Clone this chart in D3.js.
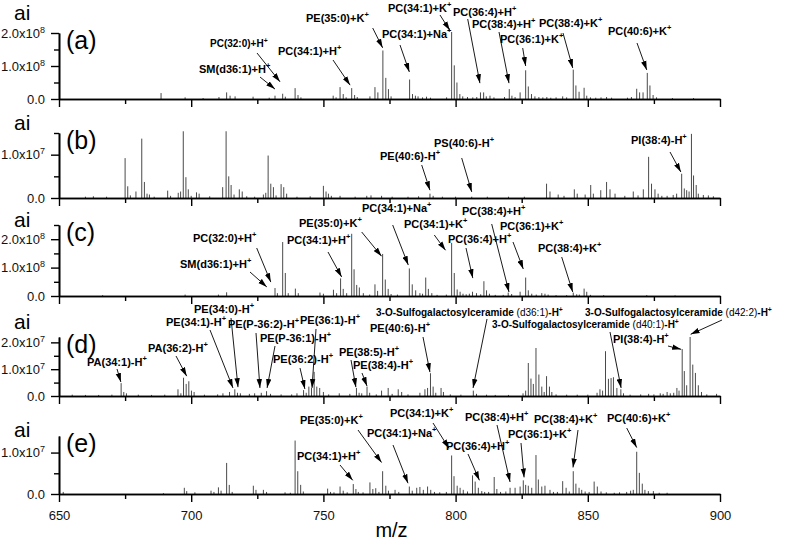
<!DOCTYPE html>
<html><head><meta charset="utf-8">
<script src="https://cdn.jsdelivr.net/npm/d3@7"></script>
<style>body{margin:0;background:#fff} text{font-family:"Liberation Sans",Arial,Helvetica,sans-serif}</style>
</head><body><svg id="c" width="787" height="546"></svg>
<script>
// ---------------- DATA ----------------
const panelNames = ["(a)","(b)","(c)","(d)","(e)"];
const yExp   = [8,7,8,7,7];
const yMax   = [2.0,1.5,2.5,2.2,1.4];
const yMajor = [[0,1,2],[0,1],[0,1,2],[0,1,2],[0,1]];
const yMinor = [[0.5,1.5],[0.5,1.5],[0.5,1.5,2.5],[0.5,1.5],[0.5]];
const xDomain = [650,900];
const xMajor = [650,700,750,800,850,900];
const xMinor = [675,725,775,825,875];
const xTitle = "m/z";
const yTitle = "ai";

// peaks: [m/z, intensity in units of 10^exp]
const peaksA = [[688.6,0.18],[697.7,0.05],[704.5,0.03],[710.5,0.06],[713.4,0.2],[714.7,0.1],[716.6,0.08],[723.4,0.07],[729.5,0.04],[731.7,0.1],[734.6,0.16],[735.6,0.07],[739.3,0.33],[740.4,0.12],[741.5,0.05],[753.7,0.1],[754.8,0.05],[756.3,0.36],[757.5,0.15],[758.6,0.05],[760.7,0.33],[761.8,0.12],[762.8,0.06],[767.6,0.08],[769.5,0.36],[770.6,0.2],[772.5,1.47],[773.6,0.64],[774.6,0.3],[775.6,0.08],[782.6,0.59],[783.7,0.15],[784.8,0.1],[785.8,0.08],[787.5,0.05],[789,0.07],[790.5,0.04],[796.6,0.05],[798.5,2.03],[799.5,1.02],[800.5,0.5],[801.6,0.15],[802.7,0.08],[804.5,0.06],[806.5,0.05],[808,0.06],[809.4,0.2],[810.6,0.2],[811.6,0.08],[813,0.1],[814.5,0.05],[818.5,0.06],[820.3,0.3],[821.3,0.1],[822.5,0.06],[824.4,0.2],[826.5,0.87],[827.5,0.38],[828.7,0.15],[830,0.08],[831.5,0.06],[833,0.05],[834.5,0.06],[836,0.04],[838,0.05],[840.5,0.08],[842,0.05],[844.5,0.89],[845.5,0.41],[846.7,0.22],[848.6,0.34],[849.6,0.1],[851,0.05],[853,0.04],[855,0.05],[857.1,0.06],[859,0.04],[865,0.04],[866.5,0.06],[868.5,0.31],[869.6,0.2],[870.9,0.2],[872.5,0.79],[873.5,0.41],[874.7,0.12],[876,0.05],[882,0.03],[890,0.03]];
const peaksB = [[660,0.03],[663,0.04],[668,0.03],[675,0.92],[676,0.27],[677,0.06],[679.1,0.15],[681.3,1.37],[682.3,0.37],[683.3,0.1],[684.2,0.08],[686,0.03],[691.1,0.17],[692.2,0.05],[695.1,0.12],[696,0.15],[697,1.54],[698,0.48],[698.9,0.2],[700,0.05],[702,0.13],[703,0.1],[707,0.04],[711.9,0.25],[713.2,1.54],[714.2,0.5],[715.1,0.3],[716.2,0.08],[718.2,0.2],[719.3,0.15],[721,0.04],[724,0.03],[727.3,0.08],[728.2,0.12],[729.1,0.98],[730.1,0.33],[731.1,0.25],[732.1,0.06],[734,0.32],[735,0.25],[736.1,0.1],[740,0.03],[745,0.04],[750,0.28],[751,0.15],[751.9,0.1],[753,0.05],[756.3,0.05],[762,0.03],[766.4,0.05],[768,0.06],[772,0.05],[776,0.03],[782,0.03],[786,0.04],[790.3,0.1],[791.5,0.05],[795,0.03],[800,0.03],[806.1,0.03],[812,0.03],[820,0.03],[826,0.03],[834.4,0.33],[835.7,0.15],[838.8,0.08],[841,0.05],[844.9,0.2],[846,0.1],[849,0.08],[851.1,0.3],[852.1,0.1],[854.9,0.18],[857.1,0.37],[858.4,0.2],[860.3,0.1],[864,0.05],[867.2,0.15],[869,0.06],[871,0.2],[873,0.95],[874.1,0.33],[875.4,0.2],[876.6,0.1],[878,0.05],[880,0.05],[882.3,0.07],[883.6,0.1],[885.5,0.56],[886.5,0.22],[887.4,0.18],[888.3,0.15],[889.2,1.48],[890,0.52],[891,0.3],[891.8,0.1],[893.7,0.07],[895.6,0.06],[897.5,0.04]];
const peaksC = [[666.5,0.03],[697.7,0.05],[710.3,0.05],[713.4,0.13],[731.7,0.28],[732.6,0.1],[734.6,1.9],[735.6,0.81],[736.7,0.1],[739.4,0.26],[740.5,0.1],[748.7,0.12],[750,0.08],[753.8,0.22],[755,0.1],[756.5,0.62],[757.5,0.25],[758.8,0.1],[760.7,2.19],[761.6,0.94],[762.6,0.39],[763.6,0.3],[765.1,0.1],[767.5,0.05],[769.5,0.41],[770.5,0.18],[772.4,1.48],[773.4,0.58],[774.5,0.25],[775.6,0.07],[778,0.05],[782.5,0.97],[783.6,0.41],[784.9,0.2],[786.5,0.1],[787.5,0.08],[788.7,0.65],[789.7,0.25],[791,0.1],[793,0.04],[796.5,0.05],[798.5,1.87],[799.5,0.81],[800.6,0.23],[801.7,0.15],[802.8,0.08],[804,0.06],[805.2,0.08],[806.4,0.15],[807.9,0.1],[809.5,0.06],[810.7,0.52],[811.7,0.2],[812.8,0.08],[815,0.04],[818,0.04],[819.9,0.12],[821.2,0.07],[824.4,0.15],[826.5,0.65],[827.5,0.2],[828.8,0.08],[830.5,0.05],[832.6,0.1],[833.8,0.08],[835,0.05],[838,0.03],[842,0.03],[844.5,0.12],[845.8,0.06],[846.8,0.05],[848.6,0.26],[849.6,0.15],[851,0.04],[856,0.03],[872.3,0.03],[883,0.02]];
const peaksD = [[655,0.05],[660,0.04],[665,0.04],[670,0.05],[673.5,0.48],[674.5,0.15],[675.5,0.1],[680,0.05],[685,0.04],[690,0.05],[695,0.25],[696.1,0.1],[697.1,0.68],[698.1,0.45],[699.1,0.55],[700.1,0.2],[701.1,0.15],[705,0.05],[710,0.06],[712,0.1],[714.5,0.15],[716.5,0.25],[717.5,0.12],[718.6,0.1],[722,0.08],[724,0.1],[726.5,0.12],[728.5,0.18],[730,0.08],[734,0.06],[738,0.06],[740,0.1],[742.5,0.22],[743.5,0.12],[744.5,0.35],[745.5,0.3],[746.5,0.9],[747.5,0.35],[748.6,0.3],[750,0.15],[752,0.06],[756,0.1],[760,0.08],[762.5,0.3],[763.5,0.12],[764.5,0.1],[766.5,0.35],[767.5,0.12],[770,0.06],[772,0.2],[774.5,0.3],[776,0.08],[778.3,0.25],[779.6,0.15],[782,0.06],[786.5,0.12],[788.4,0.25],[789.4,0.3],[790.5,0.85],[791.5,0.35],[792.5,0.12],[794.5,0.3],[795.4,0.15],[798,0.06],[802,0.05],[806.7,0.2],[807.9,0.08],[811.7,0.05],[815,0.04],[820,0.04],[825.5,0.1],[826.5,0.2],[827.5,1.23],[828.5,0.65],[829.4,0.45],[830.4,1.79],[831.5,0.8],[832.6,0.35],[833.5,0.15],[834.4,0.74],[835.5,0.35],[836.4,0.15],[838,0.06],[842,0.05],[846,0.05],[850,0.05],[853.5,0.12],[854.6,0.25],[855.6,0.2],[856.7,1.67],[857.8,0.64],[858.8,0.67],[859.7,0.7],[861,0.3],[862.5,0.25],[863.5,0.1],[866,0.05],[870,0.06],[873,0.08],[875,0.06],[877.4,0.1],[878.5,0.08],[880,0.15],[881.2,0.1],[882.5,0.12],[883.7,0.3],[884.5,0.2],[885.7,1.75],[886.5,0.93],[887.4,0.4],[888.7,2.2],[889.7,1.17],[890.7,0.86],[891.8,0.4],[893,0.15],[895,0.06],[898.7,0.08]];
const peaksE = [[651.6,0.05],[689.5,0.02],[697.4,0.15],[698.3,0.07],[701.4,0.04],[707.5,0.08],[708.6,0.05],[710.3,0.16],[711.3,0.08],[713.4,0.75],[714.4,0.22],[715.5,0.05],[723.5,0.2],[724.5,0.1],[727.3,0.1],[728.5,0.05],[735.5,0.04],[737.5,0.03],[739.3,1.29],[740.3,0.55],[741.4,0.22],[742.4,0.06],[751.6,0.13],[752.7,0.05],[754,0.04],[756.3,0.18],[757.5,0.08],[759,0.04],[761.3,0.24],[762.3,0.12],[763.2,0.05],[765,0.04],[767.6,0.28],[768.7,0.12],[769.8,0.14],[771,0.05],[772.4,0.55],[773.6,0.2],[774.6,0.08],[777.1,0.1],[778.5,0.05],[782.5,0.18],[783.6,0.08],[785.3,0.15],[786.5,0.17],[787.8,0.1],[789.4,0.18],[790.6,0.1],[792,0.05],[794,0.04],[796.5,0.05],[798.5,0.93],[799.4,0.43],[800.6,0.2],[801.7,0.15],[802.9,0.1],[804.5,0.06],[806.4,0.45],[807.4,0.3],[808.6,0.15],[809.9,0.07],[811,0.05],[812.5,0.05],[814.6,0.41],[815.6,0.12],[817,0.05],[819,0.06],[820.6,0.15],[822.5,0.15],[824.4,0.18],[825.6,0.33],[826.5,0.22],[827.5,0.2],[828.8,0.15],[830.4,0.94],[831.3,0.35],[832.6,0.18],[833.8,0.2],[835.7,0.1],[837,0.05],[838.5,0.05],[840.5,0.31],[841.8,0.15],[843,0.06],[844.5,0.55],[845.5,0.25],[846.7,0.15],[847.7,0.1],[849,0.06],[850.5,0.05],[852.4,0.3],[853.6,0.18],[855,0.06],[857,0.04],[860,0.03],[862,0.04],[864.7,0.05],[866.2,0.08],[867.2,0.1],[868.5,1.02],[869.5,0.51],[870.6,0.25],[871.6,0.1],[872.9,0.07],[874.8,0.07],[877,0.03],[880,0.03]];

// annotations: [label, arrow-tip m/z, arrow-tip intensity]
const annA = [["PE(35:0)+K^+",772.4,1.55],["PC(32:0)+H^+",733.6,0.52],["PC(34:1)+H^+",760.1,0.42],["SM(d36:1)+H^+",731.7,0.3],["PC(34:1)+Na^+",782.5,0.82],["PC(34:1)+K^+",797.8,2.08],["PC(36:4)+H^+",809.2,0.48],["PC(38:4)+H^+",820.2,0.48],["PC(36:1)+K^+",826.5,1.0],["PC(38:4)+K^+",844.3,0.94],["PC(40:6)+K^+",872.3,0.88]];
const annB = [["PE(40:6)-H^+",790.3,0.18],["PS(40:6)-H^+",806.1,0.14],["PI(38:4)-H^+",885.2,0.6]];
const annC = [["PC(32:0)+H^+",730.1,0.49],["SM(d36:1)+H^+",728.6,0.32],["PC(34:1)+H^+",756.9,0.67],["PE(35:0)+K^+",772.0,1.4],["PC(34:1)+Na^+",782.1,1.09],["PC(34:1)+K^+",796.2,1.61],["PC(38:4)+H^+",820.2,0.14],["PC(36:1)+K^+",825.6,0.95],["PC(36:4)+H^+",806.5,0.63],["PC(38:4)+K^+",844.3,0.14]];
const annD = [["PA(34:1)-H^+",673.4,0.52],["PA(36:2)-H^+",698.3,0.74],["PE(34:1)-H^+",715.8,0.3],["PE(34:0)-H^+",717.7,0.33],["PE(P-36:2)-H^+",726,0.3],["PE(P-36:1)-H^+",728.7,0.3],["PE(36:2)-H^+",743,0.26],["PE(36:1)-H^+",745.7,0.3],["PE(38:5)-H^+",762.3,0.33],["PE(38:4)-H^+",766.5,0.37],["PE(40:6)-H^+",790.3,0.89],["3-O-Sulfogalactosylceramide |(d36:1)|-H^+",806.6,0.3],["3-O-Sulfogalactosylceramide |(d40:1)|-H^+",862.6,0.3],["3-O-Sulfogalactosylceramide |(d42:2)|-H^+",888.9,2.3],["PI(38:4)-H^+",885.3,1.74]];
const annE = [["PE(35:0)+K^+",772.0,0.76],["PC(34:1)+H^+",761.1,0.33],["PC(34:1)+Na^+",782,0.26],["PC(34:1)+K^+",797.5,1.1],["PC(38:4)+H^+",820.6,0.29],["PC(38:4)+K^+",844.4,0.64],["PC(40:6)+K^+",868.5,1.12],["PC(36:1)+K^+",825.9,0.4],["PC(36:4)+H^+",809,0.33]];

// ---------------- LAYOUT ----------------
const W = 787, H = 546;
const plotX = [59, 720];
const panelBox = [[33,99],[133,198],[225,296],[337,396],[436,494]]; // [top, baseline]
const aiY = [20,130,227,329,437];
// label layout: [textX, textBaseline, arrowStartX, arrowStartY, fontSize]
const layA = [[306,22,372.7,28],[210,47,257,53,10],[278,55,333,60],[199,73,260,77],[382,38,400,45],[388,12,440,15],[453,16,467.7,19],[472,28,499,32],[500,43,522.7,48],[539,27,563,33],[608,35,637,43]];
const layB = [[380,160,421.7,165],[434,147,461.7,158],[631,144,670,152]];
const layC = [[193,242,256.7,248],[180,268,250,272],[287,244,328,252],[299,227,361.7,232],[362,212,392.7,225],[404,228,434.3,235],[462,215,491.7,224],[500,230,513,242],[448,243,466,248],[538,252,561.7,257]];
const layD = [[87,366,117,369],[148,352,176,356],[166,326,210,330],[194,313,231,318],[228,328,256,333],[260,342,275,346],[273,363,300,368],[300,324,316,329],[339,356,351,360],[353,369,362,373],[370,332,423,337],[376,316,487,319,10],[492,328,610,332,10],[585,316,722,320,10],[613,343,668,346]];
const layE = [[300,424,358,430],[297,460,340,465],[367,437,393,445],[390,417,433,423],[465,421,497,425],[534,423,578,430],[607,422,626.7,428],[508,438,521,443],[446,450,468,454]];

const allPeaks = [peaksA,peaksB,peaksC,peaksD,peaksE];
const allAnn = [annA,annB,annC,annD,annE];
const allLay = [layA,layB,layC,layD,layE];

const svg = d3.select("#c");
svg.append("rect").attr("width",W).attr("height",H).attr("fill","#fff");
const defs = svg.append("defs");
defs.append("marker").attr("id","ah").attr("viewBox","0 0 10 6").attr("refX",10).attr("refY",3)
  .attr("markerWidth",9).attr("markerHeight",6).attr("markerUnits","userSpaceOnUse").attr("orient","auto")
  .append("path").attr("d","M0,0 L10,3 L0,6 Z").attr("fill","#000");

const x = d3.scaleLinear().domain(xDomain).range(plotX);

function writeLabel(t, str, size){
  // '|' toggles normal weight, '^' starts superscript
  let sup = "";
  let main = str;
  const k = str.indexOf("^");
  if (k >= 0){ main = str.slice(0,k); sup = str.slice(k+1); }
  const parts = main.split("|");
  parts.forEach((p,i)=>{
    if (!p) return;
    t.append("tspan").attr("font-weight", i%2 ? "normal" : "bold").text(p);
  });
  if (sup) t.append("tspan").attr("font-weight","bold").attr("font-size", size*0.68).attr("dy", -size*0.42).text(sup);
}

panelBox.forEach((box,i)=>{
  const [top, base] = box;
  const y = d3.scaleLinear().domain([0, yMax[i]]).range([base, top]);
  const g = svg.append("g");

  // peaks
  g.append("g").selectAll("line").data(allPeaks[i]).join("line")
    .attr("x1", d=>x(d[0])).attr("x2", d=>x(d[0]))
    .attr("y1", y(0)).attr("y2", d=>y(d[1]))
    .attr("stroke","#4a4a4a").attr("stroke-width",1);

  // x axis major / minor
  const xa = g.append("g").attr("transform",`translate(0,${base})`)
    .call(d3.axisBottom(x).tickValues(xMajor).tickSize(8).tickSizeOuter(0).tickPadding(9)
      .tickFormat(i===4 ? d3.format("d") : ()=>""));
  const xm = g.append("g").attr("transform",`translate(0,${base})`)
    .call(d3.axisBottom(x).tickValues(xMinor).tickSize(5).tickSizeOuter(0).tickFormat(()=>""));
  [xa,xm].forEach(a=>{ a.select(".domain").attr("stroke","#000").attr("stroke-width",1.6);
    a.selectAll(".tick line").attr("stroke","#000").attr("stroke-width",1.4); });
  xa.selectAll(".tick text").attr("font-size",13).attr("fill","#111");

  // y axis
  const ya = g.append("g").attr("transform",`translate(${plotX[0]},0)`)
    .call(d3.axisLeft(y).tickValues(yMajor[i]).tickSize(8).tickSizeOuter(0).tickPadding(6));
  const ym = g.append("g").attr("transform",`translate(${plotX[0]},0)`)
    .call(d3.axisLeft(y).tickValues(yMinor[i]).tickSize(5).tickSizeOuter(0).tickFormat(()=>""));
  [ya,ym].forEach(a=>{ a.select(".domain").attr("stroke","#000").attr("stroke-width",1.6);
    a.selectAll(".tick line").attr("stroke","#000").attr("stroke-width",1.4); });
  ya.selectAll(".tick text").attr("font-size",13).attr("fill","#111").each(function(v){
    const t = d3.select(this); t.text(null);
    if (v === 0){ t.text("0.0"); return; }
    t.append("tspan").text(v.toFixed(1)+"x10");
    t.append("tspan").attr("font-size",9).attr("dy",-5).text(yExp[i]);
  });

  // titles
  g.append("text").attr("x",14).attr("y",aiY[i]).attr("font-size",21).attr("fill","#000").text(yTitle);
  g.append("text").attr("x",66).attr("y",top+16).attr("font-size",25).attr("fill","#000").text(panelNames[i]);

  // annotations
  allAnn[i].forEach((a,j)=>{
    const L = allLay[i][j];
    const fs = L[4] || 11;
    const t = g.append("text").attr("x",L[0]).attr("y",L[1]).attr("font-size",fs).attr("fill","#000");
    writeLabel(t, a[0], fs);
    g.append("line").attr("x1",L[2]).attr("y1",L[3]).attr("x2",x(a[1])).attr("y2",y(a[2]))
      .attr("stroke","#000").attr("stroke-width",0.9).attr("marker-end","url(#ah)");
  });
});

svg.append("text").attr("x",(plotX[0]+plotX[1])/2+2).attr("y",537).attr("text-anchor","middle")
  .attr("font-size",20).attr("fill","#000").text(xTitle);
</script></body></html>
